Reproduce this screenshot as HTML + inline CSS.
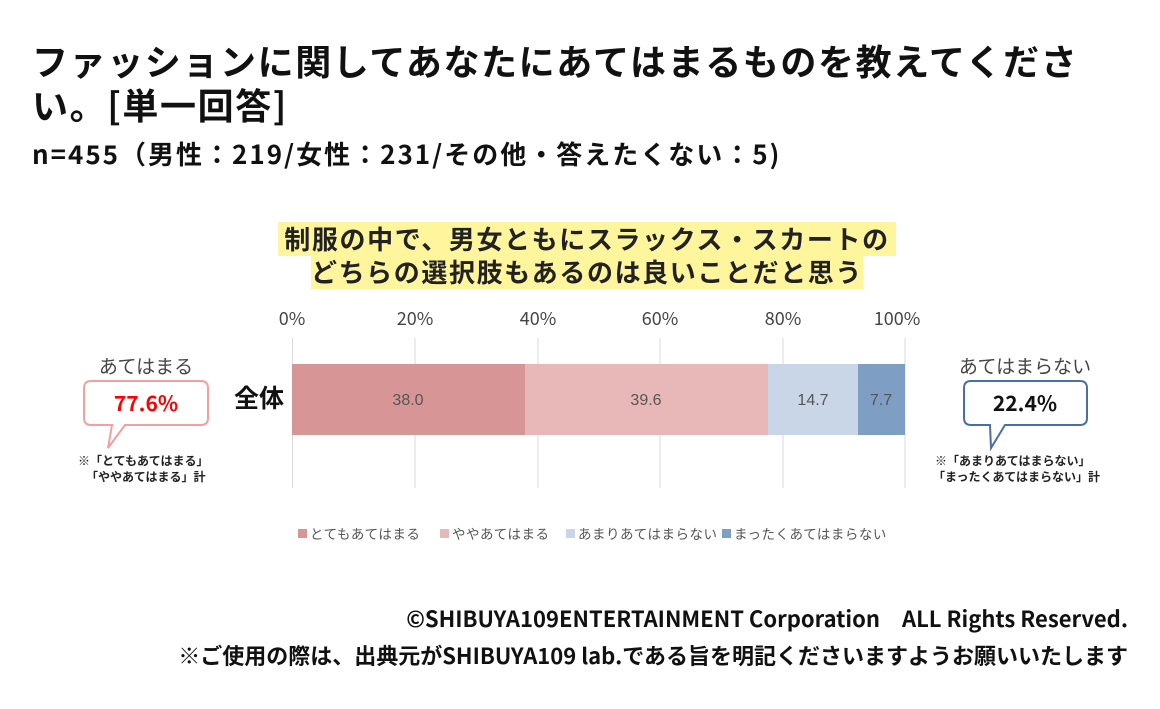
<!DOCTYPE html><html><head><meta charset="utf-8"><style>
body{margin:0;width:1160px;height:709px;background:#fff;position:relative;overflow:hidden;font-family:"Noto Sans CJK JP","Liberation Sans",sans-serif;}
.a{position:absolute;white-space:nowrap}
</style></head><body>
<div class="a" style="left:32px;top:38px;font-size:36px;letter-spacing:1.6px;font-weight:bold;line-height:44px;color:#111">ファッションに関してあなたにあてはまるものを教えてくださ<br>い。[単一回答]</div>
<div class="a" style="left:32px;top:137px;font-size:26px;letter-spacing:2px;font-weight:bold;line-height:34px;color:#111">n=455（男性：219/女性：231/その他・答えたくない：5)</div>
<div class="a" style="left:278px;top:222px;width:618px;height:34px;background:#fff59d"></div>
<div class="a" style="left:311px;top:256px;width:552px;height:33px;background:#fff59d"></div>
<div class="a" style="left:278px;top:222px;width:618px;text-align:center;font-size:26px;letter-spacing:1.6px;font-weight:bold;line-height:33px;color:#222">制服の中で、男女ともにスラックス・スカートの<br>どちらの選択肢もあるのは良いことだと思う</div>
<svg class="a" style="left:0;top:0" width="1160" height="709">
<g stroke="#d9d9d9" stroke-width="1">
<line x1="292.5" y1="338" x2="292.5" y2="488"/><line x1="415" y1="338" x2="415" y2="488"/><line x1="538" y1="338" x2="538" y2="488"/><line x1="660" y1="338" x2="660" y2="488"/><line x1="783" y1="338" x2="783" y2="488"/><line x1="905" y1="338" x2="905" y2="488"/></g>
<rect x="292" y="364" width="233" height="71" fill="#d79595"/>
<rect x="525" y="364" width="243" height="71" fill="#e8b8b8"/>
<rect x="768" y="364" width="90" height="71" fill="#c9d6e8"/>
<rect x="858" y="364" width="47" height="71" fill="#7f9ec4"/>
<g font-size="16" fill="#555" text-anchor="middle" font-family="Liberation Sans,sans-serif">
<text x="408" y="405">38.0</text><text x="646" y="405">39.6</text><text x="813" y="405">14.7</text><text x="881" y="405">7.7</text></g>
<g font-size="18" fill="#444" text-anchor="middle">
<text x="292" y="325">0%</text><text x="415" y="325">20%</text><text x="538" y="325">40%</text><text x="660" y="325">60%</text><text x="783" y="325">80%</text><text x="897" y="325">100%</text></g>
<text x="234" y="407" font-size="25" font-weight="bold" fill="#111">全体</text>
<path d="M91,381 H201 Q208,381 208,388 V418 Q208,425 201,425 H125 L108,448 L112,425 H91 Q84,425 84,418 V388 Q84,381 91,381Z" fill="#fff" stroke="#f0a0a0" stroke-width="2"/>
<path d="M971,381 H1080 Q1087,381 1087,388 V418 Q1087,425 1080,425 H1005 L991,448 L990,425 H971 Q964,425 964,418 V388 Q964,381 971,381Z" fill="#fff" stroke="#4a6fa0" stroke-width="2"/>
<text x="146" y="411" font-size="21" font-weight="bold" fill="#f00" text-anchor="middle">77.6%</text>
<text x="1025" y="411" font-size="21" font-weight="bold" fill="#111" text-anchor="middle">22.4%</text>
<text x="146" y="373" font-size="19" fill="#444" text-anchor="middle">あてはまる</text>
<text x="1025" y="373" font-size="19" fill="#444" text-anchor="middle">あてはまらない</text>
<g font-size="12" font-weight="bold" fill="#222">
<text x="78" y="465">※「とてもあてはまる」</text><text x="86" y="481">「ややあてはまる」計</text>
<text x="935" y="465">※「あまりあてはまらない」</text><text x="933" y="481">「まったくあてはまらない」計</text></g>
<g font-size="13.5" fill="#555" letter-spacing="0.5">
<rect x="298" y="529" width="9" height="9" fill="#d79595"/><text x="310" y="539">とてもあてはまる</text>
<rect x="440" y="529" width="9" height="9" fill="#e8b8b8"/><text x="452" y="539">ややあてはまる</text>
<rect x="566" y="529" width="9" height="9" fill="#c9d6e8"/><text x="578" y="539">あまりあてはまらない</text>
<rect x="722" y="529" width="9" height="9" fill="#7f9ec4"/><text x="734" y="539">まったくあてはまらない</text></g>
</svg>
<div class="a" style="right:32px;top:600px;font-size:22px;font-weight:bold;color:#111;text-align:right;line-height:37px">©SHIBUYA109ENTERTAINMENT Corporation　ALL Rights Reserved.<br>※ご使用の際は、出典元がSHIBUYA109 lab.である旨を明記くださいますようお願いいたします</div>
</body></html>
